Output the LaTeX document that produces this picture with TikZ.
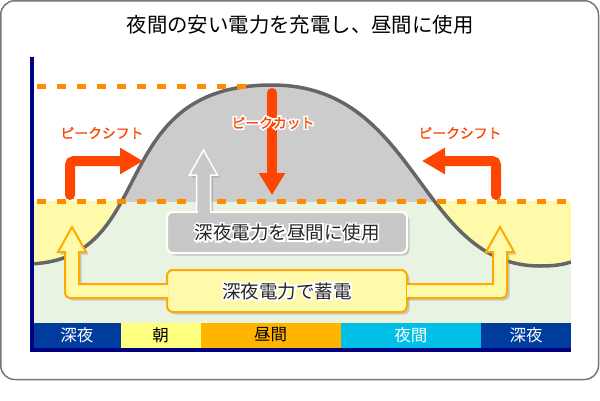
\documentclass[tikz,border=0pt]{standalone}
\usepackage{fontspec}
\setmainfont{Noto Sans CJK JP}
\newfontfamily\jpbold[FakeBold=1.2]{Noto Sans CJK JP}
\usepackage{tikz}
\usetikzlibrary{calc, arrows.meta, shadows}

\definecolor{frameGray}{HTML}{777777}
\definecolor{axisNavy}{HTML}{000080}
\definecolor{nightBlue}{HTML}{003C9E}
\definecolor{morningYel}{HTML}{FFFF80}
\definecolor{dayOrange}{HTML}{FFB400}
\definecolor{eveCyan}{HTML}{00BEE6}
\definecolor{lineOrange}{HTML}{FF8C00}
\definecolor{shiftRed}{HTML}{FF4500}
\definecolor{chargeYel}{HTML}{FFF9AA}
\definecolor{chargeEdge}{HTML}{FFAA00}
\definecolor{baseGreen}{HTML}{E8F3E2}
\definecolor{peakGray}{HTML}{CCCCCC}
\definecolor{curveGray}{HTML}{666666}
\definecolor{boxGray}{HTML}{C8C8C8}

% 白いふちどり付きの文字 (輪郭を白で描いてから本体を重ねる)
\newcommand{\haloNode}[4]{%
  \node[#2, text=white] (#1h) at (#3)
    {\rmfamily\special{pdf:literal direct 1 Tr 3.5 w}#4\special{pdf:literal direct 0 Tr}};
  \node[#2] (#1) at (#3) {#4};
}

\begin{document}
\begin{tikzpicture}[x=1pt, y=-1pt,
    dashline/.style={lineOrange, line width=5, dash pattern=on 9pt off 11pt},
    shiftarrow/.style={shiftRed, line width=10, line cap=round, rounded corners=4,
      -{Triangle[length=23pt, width=25pt]}},
    cutarrow/.style={shiftRed, line width=10, line cap=round,
      -{Triangle[length=22pt, width=25pt]}},
    shadowed/.style={drop shadow={shadow xshift=2.5pt, shadow yshift=-2.5pt, opacity=0.35}},
    graybox/.style={fill=boxGray, draw=white, line width=2, rounded corners=6, shadowed},
    chargebox/.style={fill=chargeYel, draw=chargeEdge, line width=2, rounded corners=6, shadowed},
    bandlabel/.style={font=\fontsize{16.5}{18}\selectfont, inner sep=0},
    shiftlabel/.style={font=\jpbold\fontsize{13.8}{16}\selectfont, text=shiftRed, inner sep=0},
    boxlabel/.style={font=\fontsize{18.5}{20}\selectfont, text=black!85, inner sep=0},
  ]
    \useasboundingbox (0,0) rectangle (600,400);

    % --- 1. 外枠とタイトル ---
    \draw[frameGray, line width=1.5, rounded corners=14] (0.75,0.75) rectangle (598.5,379.5);
    \node[font=\fontsize{20.4}{24}\selectfont] (title) at (300,25) {夜間の安い電力を充電し、昼間に使用};

    % --- 2. 電力需要の曲線 ---
    \def\bellcurve{(25,264) .. controls (162,264) and (101,85) .. (272,85)
      .. controls (419,85) and (418,266) .. (540,266)
      .. controls (555,266) and (563,264.5) .. (571,262)}
    \begin{scope}
      \clip (34,0) rectangle (571,400);
      \fill[chargeYel] (34,201) rectangle (571,322.7);
      \fill[baseGreen] \bellcurve -- (571,322.7) -- (25,322.7) -- cycle;
      \begin{scope}
        \clip (0,0) rectangle (600,201);
        \fill[peakGray] \bellcurve -- (571,322.7) -- (25,322.7) -- cycle;
      \end{scope}
      \draw[curveGray, line width=3.5] \bellcurve;
    \end{scope}

    % --- 3. 破線 ---
    \draw[dashline] (36.7,86) -- (247,86);
    \draw[dashline] (36.7,201) -- (571,201);

    % --- 4. 時間帯の帯と軸 ---
    \foreach \xa/\xb/\bg/\fg/\lbl [count=\i] in {33/120.5/nightBlue/white/深夜,
        120.5/200.5/morningYel/black/朝, 200.5/340.5/dayOrange/black/昼間,
        340.5/481/eveCyan/white/夜間, 481/571/nightBlue/white/深夜} {
      \fill[\bg] (\xa,322.7) rectangle (\xb,347.7);
      \node[bandlabel, text=\fg] (band\i) at ({(\xa+\xb)/2},335) {\lbl};
    }
    \fill[axisNavy] (30,347.7) rectangle (571,351.7);
    \draw[axisNavy, line width=4] (32,57) -- (32,351.7);

    % --- 5. ピークシフト・ピークカットの矢印 ---
    \coordinate (shiftL0) at (70,195);
    \coordinate (shiftL1) at (143,161);
    \coordinate (shiftR0) at (496,195);
    \coordinate (shiftR1) at (422,161);
    \coordinate (cutTop) at (272,93);
    \coordinate (cutTip) at (272,195);
    \draw[shiftarrow] (shiftL0) |- (shiftL1);
    \draw[shiftarrow] (shiftR0) |- (shiftR1);
    \draw[cutarrow] (cutTop) -- (cutTip);

    \node[shiftlabel] (shiftLabelL) at (102,133) {ピークシフト};
    \node[shiftlabel] (shiftLabelR) at (460,133) {ピークシフト};
    \haloNode{cutLabel}{shiftlabel}{273,123}{ピークカット}

    % --- 6. 蓄電の矢印 (左右) ---
    \fill[chargeYel, draw=chargeEdge, line width=2, shadowed]
      (172,284) -- (79,284) -- (79,252) -- (86,252) -- (72,227) -- (58,252) -- (65,252)
      [rounded corners=5] -- (65,298) -- (172,298) -- cycle;
    \fill[chargeYel, draw=chargeEdge, line width=2, shadowed]
      (402,284) -- (493,284) -- (493,252) -- (486,252) -- (500,227) -- (514,252) -- (507,252)
      [rounded corners=5] -- (507,298) -- (402,298) -- cycle;

    % --- 7. 昼間に使用する矢印 ---
    \coordinate (upBase) at (203.5,212);
    \fill[boxGray, draw=white, line width=1.5, shadowed]
      (196.5,216) -- (196.5,175) -- (189.5,175) -- (203.5,150) -- (217.5,175)
      -- (210.5,175) -- (210.5,216) -- cycle;

    % --- 8. 説明の箱 ---
    \node[graybox, minimum width=240pt, minimum height=41pt] (useBox) at (287,232.5) {};
    \node[chargebox, minimum width=240pt, minimum height=42pt] (chargeBox) at (287,291) {};
    \fill[boxGray] ($(upBase)+(-6,-1.5)$) rectangle ($(upBase)+(6,1.5)$);
    \fill[chargeYel] ($(chargeBox.west)+(-1.5,-6)$) rectangle ($(chargeBox.west)+(1.5,6)$);
    \fill[chargeYel] ($(chargeBox.east)+(-1.5,-6)$) rectangle ($(chargeBox.east)+(1.5,6)$);

    \haloNode{useLabel}{boxlabel}{useBox.center}{深夜電力を昼間に使用}
    \haloNode{chargeLabel}{boxlabel}{chargeBox.center}{深夜電力で蓄電}

\end{tikzpicture}
\end{document}
